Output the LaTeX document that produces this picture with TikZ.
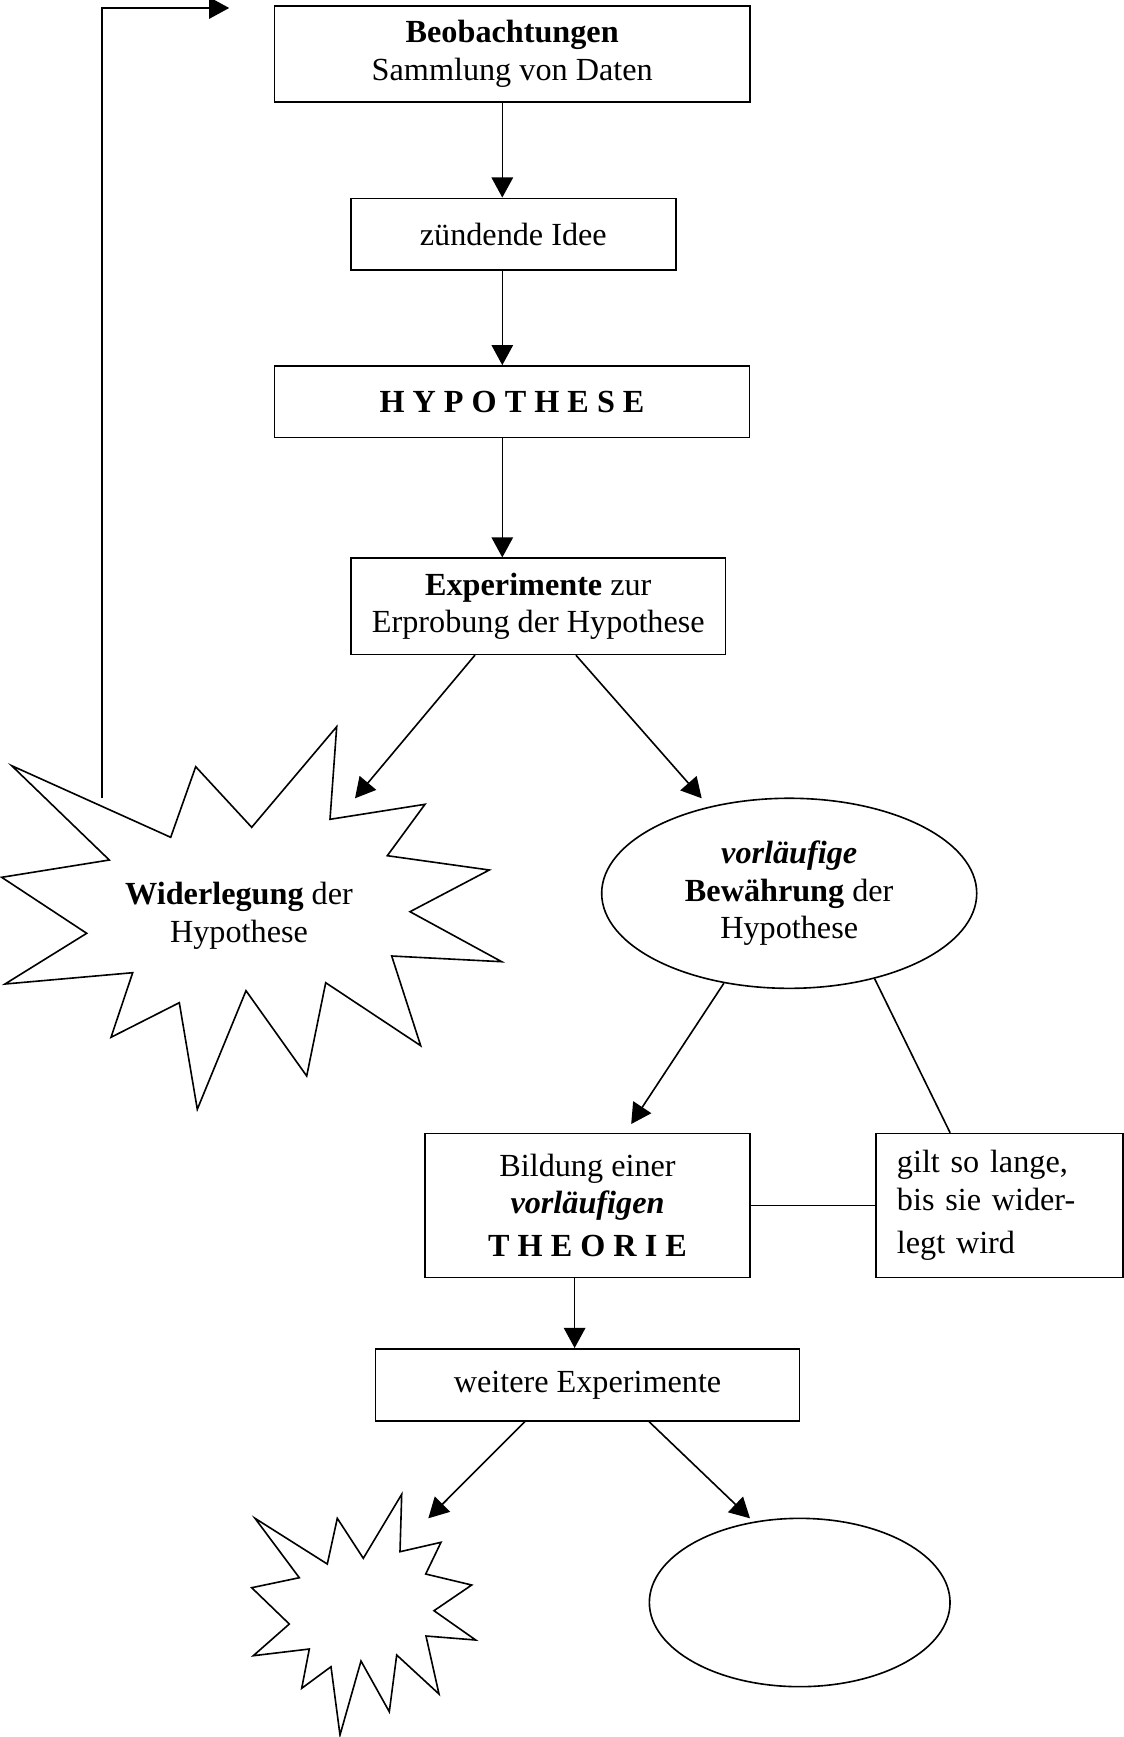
\documentclass[tikz,border=0pt]{standalone}
\usepackage{fontspec}
\setmainfont{Liberation Serif}
\usetikzlibrary{arrows.meta,shapes.geometric}

\begin{document}
\begin{tikzpicture}[x = 0.3725pt, y = -0.3725pt,
        every node/.style = {font=\fontsize{12}{14}\selectfont, align=center},
        box/.style   = {draw, rectangle, line width=0.6pt, inner sep=0pt},
        oval/.style  = {draw, ellipse, line width=0.6pt, inner sep=0pt},
        burst/.style = {draw, line width=0.6pt, line join=miter},
        arr/.style   = {-{Triangle[length=7.5pt, width=8pt]}, line width=0.6pt},
        conn/.style  = {line width=0.6pt}]
        \useasboundingbox (0, 0) rectangle (1124, 1737);

        \node[box, minimum width=177pt,   minimum height=35.8pt] at (512.2,   54  ) (beob) {\textbf{Beobachtungen}\\Sammlung von Daten};
        \node[box, minimum width=121pt,   minimum height=26.7pt] at (513.3,  234.2) (idee) {zündende Idee};
        \node[box, minimum width=177pt,   minimum height=26.7pt] at (512,    401.8) (hyp)  {\textbf{H Y P O T H E S E}};
        \node[box, minimum width=139.6pt, minimum height=35.8pt] at (538.3,  606.3) (exp)  {\textbf{Experimente} zur\\Erprobung der Hypothese};
        \node[oval, minimum width=139.7pt, minimum height=70.8pt] at (789.2, 893.3) (bew)  {\textbf{\textit{vorläufige}}\\\textbf{Bewährung} der\\Hypothese};
        \node[box, minimum width=120.9pt, minimum height=53.6pt] at (587.5, 1205.5) (bild) {Bildung einer\\\textbf{\textit{vorläufigen}}\\[2pt]\textbf{T H E O R I E}};
        \node[box, minimum width=92pt, minimum height=53.6pt, text width=76.4pt, inner xsep=7.8pt, align=left]
                                                                at (999.5, 1205.5) (gilt) {gilt so lange,\\bis sie wider-\\[2pt]legt wird};
        \node[box, minimum width=158pt,   minimum height=26.8pt] at (587.5, 1384.8) (weit) {weitere Experimente};
        \node[oval, minimum width=112pt,  minimum height=62.7pt] at (799.7, 1602.5) (bew2) {};

        % Widerlegung
        \draw[burst] (11.7,765.7) -- (170.7,837.3) -- (195.7,766.7) -- (251.7,827.3) -- (336.7,726.7)
                -- (330,819.3) -- (425,804.3) -- (387.3,855.7) -- (489.3,870) -- (410,911.7)
                -- (501.7,961.7) -- (391.7,956) -- (420.7,1045.7) -- (325.7,982.7) -- (306.7,1076)
                -- (246,990.7) -- (197.3,1109.3) -- (179.3,1002.7) -- (111,1037.3) -- (132.7,972.7)
                -- (5,984) -- (86.7,933.3) -- (1.7,877.3) -- (109.3,860) -- cycle;
        \node at (239, 916) (wid) {\textbf{Widerlegung} der\\Hypothese};

        % small burst at the bottom
        \draw[burst] (255,1518.3) -- (327.3,1564) -- (337.3,1518.3) -- (363.3,1558.3) -- (401.7,1494.3)
                -- (400,1551.7) -- (441,1542.3) -- (425.7,1574) -- (471.7,1585) -- (434,1610.7)
                -- (475.7,1640) -- (426,1636) -- (439,1694) -- (396.7,1655) -- (389.3,1711.7)
                -- (361,1661) -- (340,1735) -- (331,1666.7) -- (301.7,1688.3) -- (309.3,1649)
                -- (253.3,1655.7) -- (289.3,1624) -- (251.7,1587.7) -- (299.3,1577.7) -- cycle;

        \coordinate (axis)     at (502.3,    0  );
        \coordinate (loop)     at (101.7,  798  );
        \coordinate (looptip)  at (229.2,    8  );
        \coordinate (widtip)   at (355,    798.3);
        \coordinate (bewtip)   at (701.7,  798.3);
        \coordinate (bildtip)  at (631.2, 1124  );
        \coordinate (smalltip) at (428.3, 1518.3);
        \coordinate (ovaltip)  at (750,   1518.3);

        \draw[arr]  (beob.south -| axis) -- (idee.north -| axis);
        \draw[arr]  (idee.south -| axis) -- (hyp.north -| axis);
        \draw[arr]  (hyp.south -| axis)  -- (exp.north -| axis);
        \draw[arr]  ([xshift=-23.6pt]exp.south) -- (widtip);
        \draw[arr]  ([xshift=14pt]exp.south)    -- (bewtip);
        \draw[arr]  (loop) |- (looptip);
        \draw[arr]  (bew.234) -- (bildtip);
        \draw[conn] (bew.315) -- ([xshift=-18.4pt]gilt.north);
        \draw[conn] (bild.east) -- (gilt.west);
        \draw[arr]  ([xshift=-4.8pt]bild.south) -- ([xshift=-4.8pt]weit.north);
        \draw[arr]  ([xshift=-23.3pt]weit.south) -- (smalltip);
        \draw[arr]  ([xshift=22.9pt]weit.south)  -- (ovaltip);
      \end{tikzpicture}
\end{document}
